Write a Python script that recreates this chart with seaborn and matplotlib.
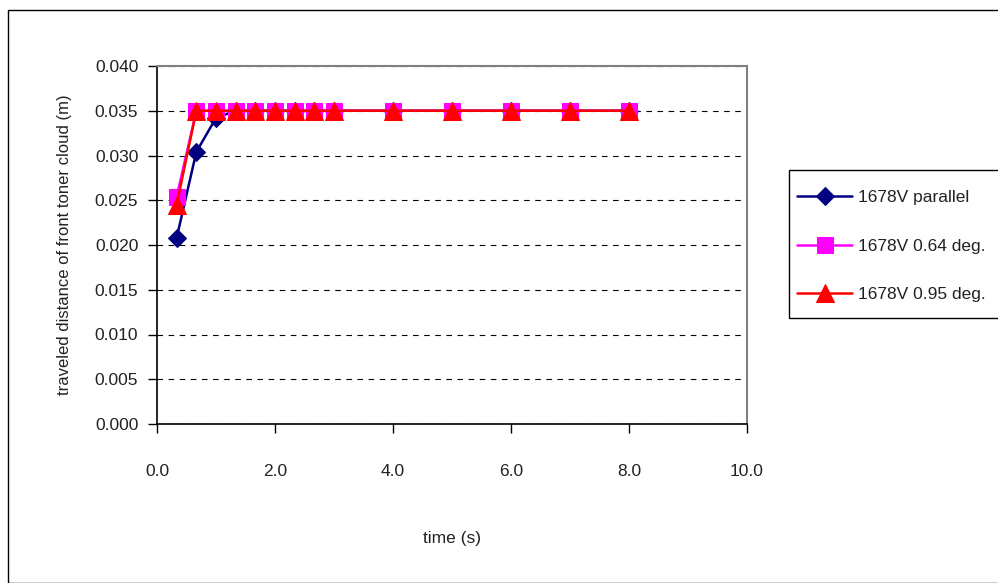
import seaborn as sns
import pandas as pd
import matplotlib.pyplot as plt
from matplotlib.patches import Rectangle

# data
time_s = [1/3, 2/3, 1.0, 4/3, 5/3, 2.0, 7/3, 8/3, 3.0, 4.0, 5.0, 6.0, 7.0, 8.0]
parallel = [0.0208, 0.0304, 0.0342, 0.035, 0.035, 0.035, 0.035, 0.035, 0.035, 0.035, 0.035, 0.035, 0.035, 0.035]
deg064 = [0.0254, 0.035, 0.035, 0.035, 0.035, 0.035, 0.035, 0.035, 0.035, 0.035, 0.035, 0.035, 0.035, 0.035]
deg095 = [0.0245, 0.035, 0.035, 0.035, 0.035, 0.035, 0.035, 0.035, 0.035, 0.035, 0.035, 0.035, 0.035, 0.035]
labels = ['1678V parallel', '1678V 0.64 deg.', '1678V 0.95 deg.']

sns.set_theme(style='white')
plt.rcParams['font.family'] = ['Liberation Sans', 'DejaVu Sans']

fig = plt.figure(figsize=(9.98, 5.83), dpi=100)
ax = fig.add_axes([157/998, 1-424/583, 590/998, 358/583])

df = pd.DataFrame({'t': time_s, 'p': parallel, 'a': deg064, 'b': deg095})

sns.lineplot(x='t', y='p', data=df, color='#000080', marker='D', markersize=9,
             markeredgecolor='#000080', linewidth=1.8, label=labels[0], ax=ax)
sns.lineplot(x='t', y='a', data=df, color='#FF00FF', marker='s', markersize=11,
             markeredgecolor='#FF00FF', linewidth=1.8, label=labels[1], ax=ax)
sns.lineplot(x='t', y='b', data=df, color='#FF0000', marker='^', markersize=13,
             markeredgecolor='#FF0000', linewidth=1.8, label=labels[2], ax=ax)

ax.set_xlim(0, 10)
ax.set_ylim(0, 0.040)
ax.set_xticks([0, 2, 4, 6, 8, 10])
ax.set_xticklabels(['0.0', '2.0', '4.0', '6.0', '8.0', '10.0'])
ax.set_yticks([i*0.005 for i in range(9)])
ax.set_yticklabels(['%.3f' % (i*0.005) for i in range(9)])
ax.tick_params(axis='both', direction='out', length=6.5, width=1, color='black',
               labelsize=12.5, labelcolor='#222222', left=True, bottom=True)
ax.tick_params(axis='y', pad=7)
ax.tick_params(axis='x', pad=22)
ax.yaxis.grid(True, linestyle=(0, (5, 5)), color='black', linewidth=0.8)
for s in ['top', 'right']:
    ax.spines[s].set_color('#808080')
    ax.spines[s].set_linewidth(1.5)
for s in ['left', 'bottom']:
    ax.spines[s].set_color('black')
    ax.spines[s].set_linewidth(1.2)

ax.set_xlabel('time (s)', fontsize=12.5, labelpad=38, color='#222222')
ax.set_ylabel('traveled distance of front toner cloud (m)', fontsize=12,
              labelpad=16, color='#222222')

# legend: entries without frame, box drawn separately (Excel-like padding)
ax.get_legend().remove()
h, l = ax.get_legend_handles_labels()
leg = fig.legend(h, l, loc='center left', bbox_to_anchor=(789/998, 1-246/583),
                 fontsize=12.5, frameon=False, labelspacing=1.9,
                 handlelength=3.2, handletextpad=0.3, borderpad=0.45,
                 borderaxespad=0, labelcolor='#222222')
fig.patches.append(Rectangle((789/998, 1-318/583), 0.3, 148/583,
                             transform=fig.transFigure, fill=False,
                             edgecolor='black', linewidth=1))

fig.patches.append(Rectangle((8/998, 0), 1, 1-10/583, transform=fig.transFigure,
                             fill=False, edgecolor='black', linewidth=1))

fig.savefig('out.png', dpi=100)
